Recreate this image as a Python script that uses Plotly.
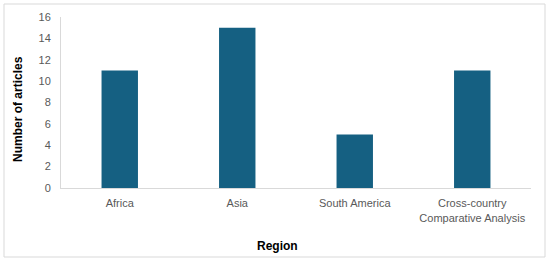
import plotly.graph_objects as go

regions = ["Africa", "Asia", "South America", "Cross-country<br>Comparative Analysis"]
articles = [11, 15, 5, 11]
y_ticks = [0, 2, 4, 6, 8, 10, 12, 14, 16]

W, H = 550, 262
L, R, T, B = 61, 19, 17, 74
pw, ph = W - L - R, H - T - B

def px_x(x):
    return (x - L) / pw

def px_y(y):
    return (H - B - y) / ph

fig = go.Figure(go.Bar(
    x=regions, y=articles,
    marker=dict(color="#156082", line=dict(width=0)),
    width=0.31,
))

fig.update_layout(
    template="none",
    width=W, height=H,
    margin=dict(l=L, r=R, t=T, b=B, autoexpand=False),
    paper_bgcolor="white", plot_bgcolor="white",
    showlegend=False,
    font=dict(family="Liberation Sans, Arial, sans-serif", color="#595959", size=11),
    xaxis=dict(
        automargin=False,
        showline=True, linecolor="#d9d9d9", linewidth=1,
        showgrid=False, ticks="", tickfont=dict(size=11, color="#595959"),
        ticklabelstandoff=5, zeroline=False,
    ),
    yaxis=dict(
        automargin=False,
        range=[0, 16], tickvals=y_ticks,
        showline=True, linecolor="#d9d9d9", linewidth=1,
        showgrid=False, ticks="", zeroline=False,
        tickfont=dict(size=11, color="#595959"),
        ticklabelstandoff=7,
    ),
    annotations=[
        dict(text="<b>Region</b>", xref="paper", yref="paper",
             x=px_x(277), y=px_y(246), showarrow=False,
             xanchor="center", yanchor="middle",
             font=dict(size=12, color="#000000")),
        dict(text="<b>Number of articles</b>", xref="paper", yref="paper",
             x=px_x(18), y=px_y(109), showarrow=False, textangle=-90,
             xanchor="center", yanchor="middle",
             font=dict(size=12, color="#000000")),
    ],
    shapes=[dict(
        type="rect", xref="paper", yref="paper",
        x0=px_x(4), x1=px_x(545), y0=px_y(257), y1=px_y(4),
        line=dict(color="#d9d9d9", width=1), fillcolor="rgba(0,0,0,0)", layer="below",
    )],
)

fig.write_html(
    "out.html",
    config={"displayModeBar": False},
    post_script="document.body.style.margin='0';document.body.style.padding='0';",
)
